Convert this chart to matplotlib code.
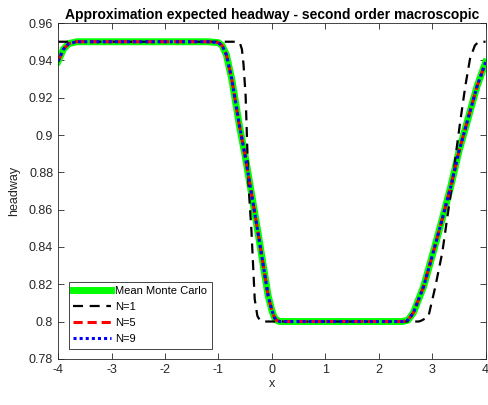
import matplotlib
matplotlib.use("Agg")
import matplotlib.pyplot as plt

plt.rcParams["font.family"] = ["Liberation Sans", "DejaVu Sans"]
plt.rcParams["axes.unicode_minus"] = False

# Mean Monte Carlo (N=5 and N=9 lie on top of it)
mc_x = [-4.0, -3.9, -3.8, -3.65, -1.2, -1.0, -0.93, -0.85, -0.75, -0.6, -0.5,
        -0.26, -0.07, 0.0, 0.05, 0.1, 0.15, 2.45, 2.55, 2.65, 2.84, 3.02, 3.19,
        3.35, 3.5, 3.67, 3.84, 4.0]
mc_y = [0.9395, 0.946, 0.949, 0.95, 0.95, 0.9495, 0.948, 0.943, 0.930, 0.904,
        0.889, 0.848, 0.814, 0.806, 0.802, 0.8005, 0.80, 0.80, 0.8008, 0.8047,
        0.8187, 0.837, 0.855, 0.8725, 0.891, 0.9085, 0.926, 0.939]

n1_x = [-4.0, -0.65, -0.6, -0.56, -0.53, -0.49, -0.47, -0.44, -0.38, -0.35,
        -0.32, -0.27, -0.22, -0.15, 2.75, 2.8, 2.93, 3.06, 3.19, 3.28, 3.37,
        3.45, 3.53, 3.62, 3.71, 3.8, 3.87, 4.0]
n1_y = [0.95, 0.95, 0.9495, 0.946, 0.938, 0.921, 0.903, 0.875, 0.848, 0.830,
        0.812, 0.803, 0.8005, 0.80, 0.80, 0.8005, 0.8026, 0.8187, 0.837, 0.855,
        0.8725, 0.891, 0.908, 0.926, 0.941, 0.948, 0.95, 0.95]

n5_x, n5_y = list(mc_x), list(mc_y)
n9_x, n9_y = list(mc_x), list(mc_y)

fig = plt.figure(figsize=(4.88, 4.05), dpi=100)
ax = fig.add_axes([0.119, 0.114, 0.876, 0.829])

ax.plot(mc_x, mc_y, color="#00ff00", lw=5, label="Mean Monte Carlo",
        solid_joinstyle="round")
ax.plot(n1_x, n1_y, color="k", lw=1.6, ls=(0, (4.5, 3)), label="N=1")
ax.plot(n5_x, n5_y, color="r", lw=2.2, ls=(0, (3, 1.6)), label="N=5")
ax.plot(n9_x, n9_y, color="b", lw=2.2, ls=(0, (1, 1)), label="N=9")

ax.set_xlim(-4, 4)
ax.set_ylim(0.78, 0.96)
ax.set_xticks(range(-4, 5))
ax.set_yticks([0.78, 0.8, 0.82, 0.84, 0.86, 0.88, 0.9, 0.92, 0.94, 0.96])
ax.set_yticklabels(["0.78", "0.8", "0.82", "0.84", "0.86", "0.88", "0.9",
                    "0.92", "0.94", "0.96"])
ax.tick_params(direction="in", top=True, right=True, labelsize=9,
               colors="#262626", length=4, width=0.6)
for s in ax.spines.values():
    s.set_color("#262626")
    s.set_linewidth(0.6)

ax.set_xlabel("x", fontsize=9, color="#262626", labelpad=2)
ax.set_ylabel("headway", fontsize=9, color="#262626", labelpad=6)
ax.set_title("Approximation expected headway - second order macroscopic",
             fontsize=10, fontweight="bold", pad=3)

leg = ax.legend(loc="lower left", fontsize=8, handlelength=3.4,
                handletextpad=0.4, labelspacing=0.55, borderpad=0.4,
                borderaxespad=0, fancybox=False, edgecolor="#262626",
                framealpha=1, bbox_to_anchor=(0.025, 0.03))
leg.get_frame().set_linewidth(0.6)

plt.savefig("out.png", dpi=100)
